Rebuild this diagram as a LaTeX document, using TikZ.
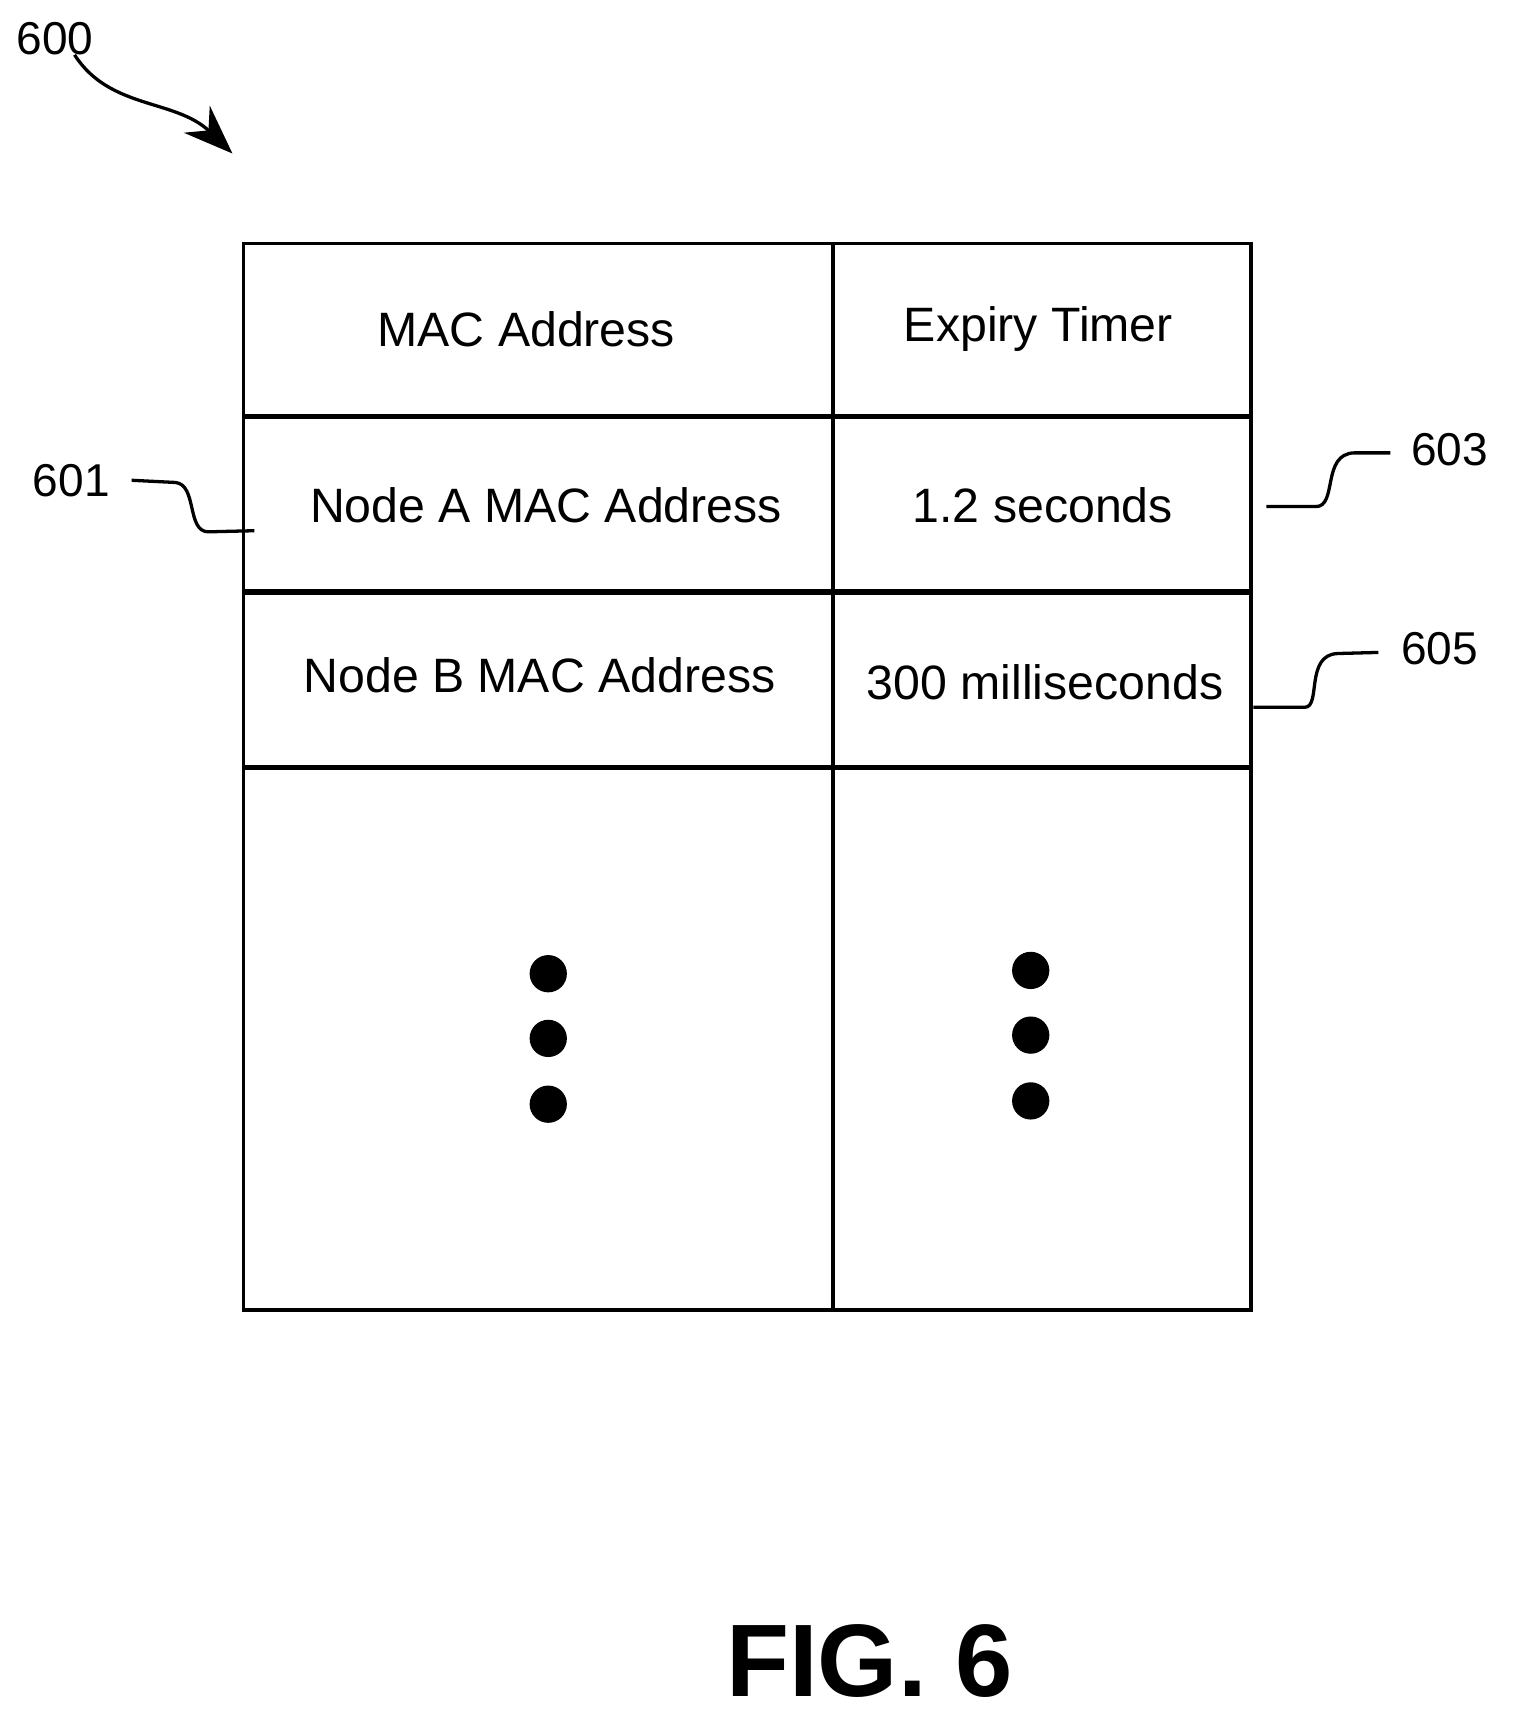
\documentclass[tikz,border=0pt]{standalone}
\usepackage{fontspec}
\setmainfont{Liberation Sans}
\usetikzlibrary{arrows.meta}
\begin{document}
\begin{tikzpicture}[x=1pt,y=-1pt,
  cell/.style={font=\fontsize{44}{50}\selectfont},
  lab/.style={font=\fontsize{42}{48}\selectfont},
  lead/.style={line width=3pt},
  dot/.style={circle,fill=black,minimum size=34pt,inner sep=0pt}]
\useasboundingbox (0,0) rectangle (1384,1575);
\draw[line width=3.5pt] (222,222) rectangle (1141,1195);
\draw[line width=3.5pt] (760,222) -- (760,1195);
\foreach \y in {380,540,700} \draw[line width=5pt] (222,\y) -- (1141,\y);
\node[cell] (h1) at (480,300) {MAC Address};
\node[cell] (h2) at (947,300) {Expiry Timer};
\node[cell] (a1) at (498,461) {Node A MAC Address};
\node[cell] (a2) at (951,461) {1.2 seconds};
\node[cell] (b1) at (492,616) {Node B MAC Address};
\node[cell] (b2) at (953,622) {300 milliseconds};
\foreach \y/\n in {888/1,947/2,1007/3} \node[dot] (l\n) at (500,\y) {};
\foreach \y/\n in {885/1,944/2,1004/3} \node[dot] (r\n) at (940,\y) {};
\node[lab] (n600) at (50,35) {600};
\node[lab] (n601) at (65,438) {601};
\node[lab] (n603) at (1322,410) {603};
\node[lab] (n605) at (1313,592) {605};
\coordinate (s601) at (120,438);
\coordinate (e601) at (232,484);
\coordinate (e603) at (1155,462);
\coordinate (e605) at (1143,645);
\coordinate (e600) at (212,140);
\draw[lead] (s601) -- (160,440) .. controls (180,442) and (170,485) .. (190,485) -- (e601);
\draw[lead] (e603) -- (1200,462) .. controls (1220,462) and (1205,414) .. (1235,413) -- (1268,413);
\draw[lead] (e605) -- (1190,645) .. controls (1205,645) and (1190,597) .. (1220,596) -- (1257,595);
\draw[lead,-{Stealth[length=45pt,width=34pt]}] (68,50) .. controls (100,100) and (160,90) .. (e600);
\node[font=\bfseries\fontsize{94}{104}\selectfont] (fig) at (793,1515) {FIG. 6};
\end{tikzpicture}
\end{document}
